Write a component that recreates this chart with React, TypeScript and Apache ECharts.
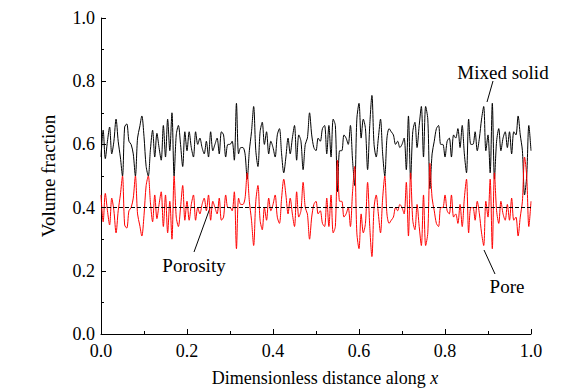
import React, { useEffect, useRef } from "react";
import * as echarts from "echarts";

const SAMPLE_STEP = 0.005;
const porosityLevel = 0.4;
const xTickValues = [0, 0.2, 0.4, 0.6, 0.8, 1.0];
const yTickValues = [0, 0.2, 0.4, 0.6, 0.8, 1.0];

const mixedSolid = [
  0.56, 0.645, 0.555, 0.61, 0.655, 0.57, 0.61, 0.68, 0.61, 0.56, 0.5, 0.655, 0.665, 0.61, 0.6, 0.57, 0.5, 0.62, 0.655, 0.69, 0.625, 0.53, 0.5, 0.585, 0.645, 0.56, 0.635, 0.59, 0.55,
  0.66, 0.56, 0.68, 0.58, 0.7, 0.5, 0.63, 0.66, 0.6, 0.53, 0.64, 0.58, 0.64, 0.59, 0.56, 0.64, 0.6, 0.62, 0.59, 0.57, 0.61, 0.56, 0.64, 0.58, 0.6, 0.62, 0.57, 0.64,
  0.63, 0.56, 0.6, 0.6, 0.61, 0.55, 0.73, 0.57, 0.59, 0.59, 0.57, 0.49, 0.58, 0.64, 0.72, 0.58, 0.53, 0.64, 0.67, 0.6, 0.64, 0.57, 0.61, 0.59, 0.56, 0.63, 0.65, 0.57, 0.51,
  0.56, 0.62, 0.57, 0.62, 0.66, 0.55, 0.63, 0.61, 0.52, 0.6, 0.62, 0.7, 0.63, 0.59, 0.58, 0.62, 0.61, 0.65, 0.66, 0.57, 0.66, 0.56, 0.68, 0.66, 0.45, 0.58, 0.58, 0.63, 0.62,
  0.6, 0.66, 0.55, 0.47, 0.68, 0.73, 0.62, 0.68, 0.65, 0.52, 0.66, 0.755, 0.6, 0.56, 0.62, 0.68, 0.57, 0.5, 0.62, 0.65, 0.64, 0.63, 0.6, 0.61, 0.59, 0.6, 0.62, 0.52, 0.69,
  0.49, 0.64, 0.67, 0.59, 0.66, 0.72, 0.56, 0.72, 0.68, 0.46, 0.57, 0.61, 0.65, 0.66, 0.6, 0.6, 0.56, 0.61, 0.62, 0.56, 0.63, 0.62, 0.65, 0.59, 0.66, 0.57, 0.51, 0.68, 0.6,
  0.6, 0.64, 0.58, 0.62, 0.68, 0.72, 0.58, 0.63, 0.51, 0.73, 0.49, 0.61, 0.65, 0.58, 0.62, 0.64, 0.59, 0.64, 0.57, 0.64, 0.63, 0.69, 0.63, 0.58, 0.44, 0.5, 0.66, 0.58,
];

const pore = [
  0.44, 0.355, 0.445, 0.39, 0.345, 0.43, 0.39, 0.32, 0.39, 0.44, 0.5, 0.345, 0.335, 0.39, 0.4, 0.43, 0.5, 0.38, 0.345, 0.31, 0.375, 0.47, 0.5, 0.415, 0.355, 0.44, 0.365, 0.41, 0.45,
  0.34, 0.44, 0.32, 0.42, 0.3, 0.5, 0.37, 0.34, 0.4, 0.47, 0.36, 0.42, 0.36, 0.41, 0.44, 0.36, 0.4, 0.38, 0.41, 0.43, 0.39, 0.44, 0.36, 0.42, 0.4, 0.38, 0.43, 0.36,
  0.37, 0.44, 0.4, 0.4, 0.39, 0.45, 0.27, 0.43, 0.41, 0.41, 0.43, 0.51, 0.42, 0.36, 0.28, 0.42, 0.47, 0.36, 0.33, 0.4, 0.36, 0.43, 0.39, 0.41, 0.44, 0.37, 0.35, 0.43, 0.49,
  0.44, 0.38, 0.43, 0.38, 0.34, 0.45, 0.37, 0.39, 0.48, 0.4, 0.38, 0.3, 0.37, 0.41, 0.42, 0.38, 0.39, 0.35, 0.34, 0.43, 0.34, 0.44, 0.32, 0.34, 0.55, 0.42, 0.42, 0.37, 0.38,
  0.4, 0.34, 0.45, 0.53, 0.32, 0.27, 0.38, 0.32, 0.35, 0.48, 0.34, 0.245, 0.4, 0.44, 0.38, 0.32, 0.43, 0.5, 0.38, 0.35, 0.36, 0.37, 0.4, 0.39, 0.41, 0.4, 0.38, 0.48, 0.31,
  0.51, 0.36, 0.33, 0.41, 0.34, 0.28, 0.44, 0.28, 0.32, 0.54, 0.43, 0.39, 0.35, 0.34, 0.4, 0.4, 0.44, 0.39, 0.38, 0.44, 0.37, 0.38, 0.35, 0.41, 0.34, 0.43, 0.49, 0.32, 0.4,
  0.4, 0.36, 0.42, 0.38, 0.32, 0.28, 0.42, 0.37, 0.49, 0.27, 0.51, 0.39, 0.35, 0.42, 0.38, 0.36, 0.41, 0.36, 0.43, 0.36, 0.37, 0.31, 0.37, 0.42, 0.56, 0.5, 0.34, 0.42,
];

const FONT = "Liberation Serif";

export default function App() {
  const ref = useRef<HTMLDivElement>(null);
  useEffect(() => {
    if (!ref.current) return;
    const chart = echarts.init(ref.current, null, { renderer: "svg" });
    const toPairs = (arr: number[]) => arr.map((v, i) => [+(i * SAMPLE_STEP).toFixed(4), v]);
    const axisCommon = {
      min: 0,
      max: 1,
      interval: 0.2,
      axisLine: { show: true, lineStyle: { color: "#000", width: 1 } },
      axisTick: { show: true, inside: true, length: 5, lineStyle: { color: "#000" } },
      minorTick: { show: true, splitNumber: 2, length: 3, lineStyle: { color: "#000" } },
      splitLine: { show: false },
      axisLabel: {
        color: "#000",
        fontFamily: FONT,
        fontSize: 18,
        formatter: (v: number) => v.toFixed(1),
      },
    };
    chart.setOption({
      animation: false,
      backgroundColor: "#fff",
      grid: { left: 101, right: 30, top: 18, bottom: 58, containLabel: false },
      xAxis: {
        type: "value",
        ...axisCommon,
        axisLabel: { ...axisCommon.axisLabel, margin: 8, customValues: xTickValues },
        name: "Dimensionless distance along {i|x}",
        nameLocation: "middle",
        nameGap: 35,
        nameTextStyle: {
          color: "#000",
          fontFamily: FONT,
          fontSize: 18,
          padding: [0, 0, 0, 18],
          rich: { i: { fontStyle: "italic", fontFamily: FONT, fontSize: 18, color: "#000" } },
        },
      },
      yAxis: {
        type: "value",
        ...axisCommon,
        axisLabel: { ...axisCommon.axisLabel, margin: 6, customValues: yTickValues },
        name: "Volume fraction",
        nameLocation: "middle",
        nameGap: 43,
        nameTextStyle: { color: "#000", fontFamily: FONT, fontSize: 19 },
      },
      series: [
        {
          name: "Mixed solid",
          type: "line",
          data: toPairs(mixedSolid),
          showSymbol: false,
          symbol: "none",
          smooth: 0.3,
          lineStyle: { color: "#000", width: 1 },
          z: 2,
        },
        {
          name: "Pore",
          type: "line",
          data: toPairs(pore),
          showSymbol: false,
          symbol: "none",
          smooth: 0.3,
          lineStyle: { color: "#ff0000", width: 1 },
          z: 3,
          markLine: {
            silent: true,
            symbol: "none",
            label: { show: false },
            lineStyle: { color: "#000", type: [4, 2], width: 1 },
            data: [{ yAxis: porosityLevel }],
            z: 4,
          },
        },
      ],
      graphic: [
        { type: "text", x: 503, y: 72, style: { text: "Mixed solid", fontFamily: FONT, fontSize: 19, fill: "#000", align: "center", verticalAlign: "middle" } },
        { type: "line", shape: { x1: 493, y1: 81, x2: 487, y2: 102 }, style: { stroke: "#000", lineWidth: 1 } },
        { type: "text", x: 507, y: 286, style: { text: "Pore", fontFamily: FONT, fontSize: 19, fill: "#000", align: "center", verticalAlign: "middle" } },
        { type: "line", shape: { x1: 484, y1: 250, x2: 495, y2: 274 }, style: { stroke: "#000", lineWidth: 1 } },
        { type: "text", x: 194, y: 265, style: { text: "Porosity", fontFamily: FONT, fontSize: 19, fill: "#000", align: "center", verticalAlign: "middle" } },
        { type: "line", shape: { x1: 210, y1: 208, x2: 194, y2: 252 }, style: { stroke: "#000", lineWidth: 1 } },
      ],
    });
    return () => chart.dispose();
  }, []);
  return <div ref={ref} style={{ position: "absolute", left: 0, top: 0, width: 561, height: 392 }} />;
}
